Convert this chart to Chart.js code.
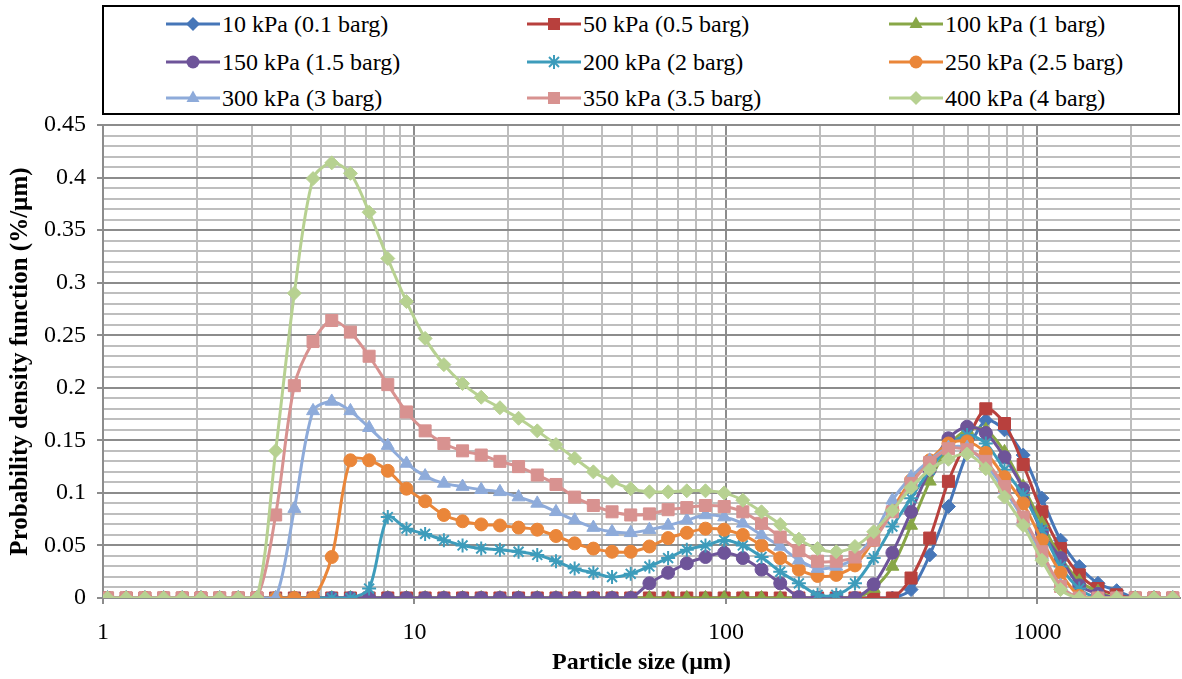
<!DOCTYPE html>
<html>
<head>
<meta charset="utf-8">
<script src="https://cdn.jsdelivr.net/npm/chart.js@4.4.1/dist/chart.umd.min.js"></script>
<style>
html,body{margin:0;padding:0;background:#fff;overflow:hidden}
#wrap{position:relative;width:1182px;height:679px}
#c{position:absolute;left:0;top:0}
#legend{position:absolute;left:102px;top:5px;width:1078px;height:110px;border:2px solid #000;box-sizing:border-box;background:#fff}
.item{position:absolute;height:30px;display:flex;align-items:center;font-family:"Liberation Serif",serif;font-size:24px;color:#000;white-space:nowrap}
.item svg{margin-right:2px}
</style>
</head>
<body>
<div id="wrap">
<canvas id="c" width="1182" height="679"></canvas>
<div id="legend"></div>
</div>
<script>
// Particle size classes (µm)
const sizes = [1.034,1.187,1.363,1.565,1.797,2.063,2.368,2.719,3.122,3.584,4.115,4.725,5.425,6.228,7.151,8.21,9.427,10.82,12.43,14.27,16.38,18.81,21.59,24.79,28.47,32.68,37.53,43.09,49.47,56.8,65.22,74.88,85.97,98.72,113.3,130.1,149.4,171.5,196.9,226.1,259.6,298.1,342.3,393,451.2,518.1,594.8,683,784.2,900.4,1034,1187,1363,1565,1797,2063,2368,2719];

const p10 = [0,0,0,0,0,0,0,0,0,0,0,0,0,0,0,0,0,0,0,0,0,0,0,0,0,0,0,0,0,0,0,0,0,0,0,0,0,0,0,0,0,0,0,0.008,0.041,0.087,0.138,0.169,0.16,0.136,0.095,0.055,0.03,0.014,0.007,0,0,0];
const p50 = [0,0,0,0,0,0,0,0,0,0,0,0,0,0,0,0,0,0,0,0,0,0,0,0,0,0,0,0,0,0,0,0,0,0,0,0,0,0,0,0,0,0,0,0.019,0.057,0.111,0.15,0.18,0.166,0.127,0.082,0.047,0.022,0.009,0.003,0,0,0];
const p100 = [0,0,0,0,0,0,0,0,0,0,0,0,0,0,0,0,0,0,0,0,0,0,0,0,0,0,0,0,0,0,0,0,0,0,0,0,0,0,0,0,0,0.009,0.03,0.069,0.111,0.144,0.16,0.16,0.139,0.106,0.071,0.039,0.016,0.006,0,0,0,0];
const p150 = [0,0,0,0,0,0,0,0,0,0,0,0,0,0,0,0,0,0,0,0,0,0,0,0,0,0,0,0,0,0.014,0.024,0.033,0.039,0.043,0.038,0.027,0.014,0.001,0,0,0,0.013,0.043,0.082,0.122,0.152,0.163,0.157,0.134,0.104,0.063,0.038,0.012,0.004,0,0,0,0];
const p200 = [0,0,0,0,0,0,0,0,0,0,0,0,0,0,0.009,0.077,0.066,0.061,0.055,0.05,0.047,0.046,0.044,0.041,0.035,0.028,0.024,0.02,0.023,0.03,0.038,0.046,0.05,0.055,0.05,0.039,0.025,0.014,0.003,0.003,0.014,0.038,0.068,0.095,0.122,0.144,0.155,0.147,0.122,0.098,0.065,0.03,0.009,0,0,0,0,0];
const p250 = [0,0,0,0,0,0,0,0,0,0,0,0,0.039,0.131,0.131,0.121,0.104,0.092,0.079,0.073,0.07,0.069,0.067,0.065,0.059,0.052,0.047,0.044,0.044,0.049,0.057,0.062,0.066,0.065,0.06,0.05,0.038,0.027,0.021,0.022,0.031,0.055,0.084,0.112,0.131,0.147,0.149,0.138,0.115,0.09,0.055,0.024,0.002,0,0,0,0,0];
const p300 = [0,0,0,0,0,0,0,0,0,0,0.085,0.178,0.187,0.178,0.162,0.145,0.128,0.116,0.109,0.106,0.103,0.101,0.096,0.09,0.082,0.074,0.067,0.063,0.062,0.065,0.069,0.074,0.079,0.077,0.071,0.06,0.049,0.036,0.028,0.03,0.038,0.06,0.093,0.115,0.131,0.143,0.143,0.127,0.103,0.075,0.041,0.012,0,0,0,0,0,0];
const p350 = [0,0,0,0,0,0,0,0,0,0.079,0.202,0.244,0.264,0.253,0.23,0.203,0.177,0.159,0.147,0.14,0.136,0.13,0.125,0.117,0.108,0.096,0.088,0.082,0.079,0.08,0.084,0.086,0.088,0.087,0.082,0.071,0.058,0.045,0.035,0.035,0.039,0.055,0.082,0.109,0.129,0.142,0.141,0.13,0.106,0.077,0.044,0.011,0,0,0,0,0,0];
const p400 = [0,0,0,0,0,0,0,0,0,0.14,0.29,0.399,0.414,0.404,0.367,0.323,0.282,0.247,0.222,0.204,0.191,0.181,0.171,0.159,0.146,0.133,0.12,0.111,0.104,0.101,0.101,0.102,0.102,0.1,0.093,0.082,0.07,0.056,0.047,0.044,0.049,0.063,0.083,0.105,0.122,0.132,0.137,0.123,0.096,0.069,0.036,0.008,0,0,0,0,0,0];

const seriesNames = ['10 kPa (0.1 barg)','50 kPa (0.5 barg)','100 kPa (1 barg)','150 kPa (1.5 barg)','200 kPa (2 barg)','250 kPa (2.5 barg)','300 kPa (3 barg)','350 kPa (3.5 barg)','400 kPa (4 barg)'];
const seriesValues = [p10,p50,p100,p150,p200,p250,p300,p350,p400];
const seriesColors = ['#4676B8','#B8403D','#88A747','#6E5499','#3D9CBB','#EA8639','#8EABDA','#D89290','#B7D191'];
const seriesMarkers = ['rectRot','rect','triangle','circle','star','circle','triangle','rect','rectRot'];

// Axis ticks
const xTickValues = [1,2,3,4,5,6,7,8,9,10,20,30,40,50,60,70,80,90,100,200,300,400,500,600,700,800,900,1000,2000];
const xMajorValues = [1,10,100,1000];
const xTickLabels = ['1','10','100','1000'];
const yMajorValues = [0,0.05,0.1,0.15,0.2,0.25,0.3,0.35,0.4,0.45];
const yTickLabels = ['0','0.05','0.1','0.15','0.2','0.25','0.3','0.35','0.4','0.45'];

const FONT = '"Liberation Serif", "Times New Roman", serif';
const markerRadius = {rectRot:7, rect:8.5, triangle:7.5, circle:6.5, star:7};

const datasets = seriesValues.map((vals, i) => ({
  label: seriesNames[i],
  data: sizes.map((x, j) => ({x: x, y: vals[j]})),
  borderColor: seriesColors[i],
  backgroundColor: seriesColors[i],
  pointBackgroundColor: seriesColors[i],
  pointBorderColor: seriesColors[i],
  pointStyle: seriesMarkers[i],
  pointRadius: markerRadius[seriesMarkers[i]],
  pointBorderWidth: seriesMarkers[i] === 'star' ? 2 : 1,
  borderWidth: 3,
  tension: 0.3,
  fill: false,
  order: seriesValues.length - i
}));

const isXMajor = v => xMajorValues.some(m => Math.abs(m - v) < 1e-9);
const isYMajor = v => yMajorValues.some(m => Math.abs(m - v) < 1e-6);

new Chart(document.getElementById('c'), {
  type: 'line',
  data: {datasets},
  options: {
    responsive: false,
    animation: false,
    layout: {autoPadding: false, padding: {top: 125, right: 2, left: 0, bottom: 0}},
    plugins: {legend: {display: false}, tooltip: {enabled: false}},
    scales: {
      x: {
        type: 'logarithmic',
        min: 1,
        max: 2870,
        afterBuildTicks: s => { s.ticks = xTickValues.map(v => ({value: v})); },
        afterFit: s => { s.height = 81; s.paddingLeft = 0; s.paddingRight = 0; },
        ticks: {
          autoSkip: false, maxRotation: 0, minRotation: 0, padding: 14, color: '#000',
          font: {family: FONT, size: 24},
          callback: v => { const k = xMajorValues.findIndex(m => Math.abs(m - v) < 1e-9); return k >= 0 ? xTickLabels[k] : ''; }
        },
        grid: {
          color: c => (c.tick && isXMajor(c.tick.value)) ? '#8C8C8C' : '#BEBEBE',
          lineWidth: 2,
          tickLength: 6,
          tickColor: c => (c.tick && isXMajor(c.tick.value)) ? '#8C8C8C' : 'rgba(0,0,0,0)'
        },
        border: {display: true, color: '#8C8C8C', width: 2},
        title: {display: true, text: 'Particle size (µm)', color: '#000', font: {family: FONT, size: 24, weight: 'bold'}, padding: {top: 0, bottom: 2}}
      },
      y: {
        min: 0,
        max: 0.45,
        afterBuildTicks: s => { const t = []; for (let i = 0; i <= 45; i++) t.push({value: i / 100}); s.ticks = t; },
        afterFit: s => { s.width = 103; },
        ticks: {
          autoSkip: false, padding: 11, color: '#000',
          font: {family: FONT, size: 24},
          callback: v => { const k = yMajorValues.findIndex(m => Math.abs(m - v) < 1e-6); return k >= 0 ? yTickLabels[k] : ''; }
        },
        grid: {
          color: c => (c.tick && isYMajor(c.tick.value)) ? '#8C8C8C' : '#BEBEBE',
          lineWidth: 2,
          tickLength: 6,
          tickColor: c => (c.tick && isYMajor(c.tick.value)) ? '#8C8C8C' : 'rgba(0,0,0,0)'
        },
        border: {display: true, color: '#8C8C8C', width: 2},
        title: {display: true, text: 'Probability density function (%/µm)', color: '#000', font: {family: FONT, size: 25, weight: 'bold'}, padding: {top: 6, bottom: 0}}
      }
    }
  }
});

// HTML legend (3 x 3 grid)
function markerSVG(style, color) {
  const cx = 27, cy = 10;
  let m = '';
  if (style === 'rectRot') m = `<polygon points="${cx-7},${cy} ${cx},${cy-7} ${cx+7},${cy} ${cx},${cy+7}" fill="${color}"/>`;
  else if (style === 'rect') m = `<rect x="${cx-6}" y="${cy-6}" width="12" height="12" fill="${color}"/>`;
  else if (style === 'triangle') m = `<polygon points="${cx},${cy-7.5} ${cx+6.5},${cy+4} ${cx-6.5},${cy+4}" fill="${color}"/>`;
  else if (style === 'circle') m = `<circle cx="${cx}" cy="${cy}" r="6.5" fill="${color}"/>`;
  else if (style === 'star') m = `<g stroke="${color}" stroke-width="2"><line x1="${cx-7}" y1="${cy}" x2="${cx+7}" y2="${cy}"/><line x1="${cx}" y1="${cy-7}" x2="${cx}" y2="${cy+7}"/><line x1="${cx-5}" y1="${cy-5}" x2="${cx+5}" y2="${cy+5}"/><line x1="${cx-5}" y1="${cy+5}" x2="${cx+5}" y2="${cy-5}"/></g>`;
  return `<svg width="54" height="20" viewBox="0 0 54 20"><line x1="0" y1="10" x2="54" y2="10" stroke="${color}" stroke-width="3"/>${m}</svg>`;
}
const legendCols = [166, 527, 889];
const legendRows = [24, 62, 98];
const wrap = document.getElementById('wrap');
seriesNames.forEach((name, i) => {
  const d = document.createElement('div');
  d.className = 'item';
  d.style.left = legendCols[i % 3] + 'px';
  d.style.top = (legendRows[Math.floor(i / 3)] - 15) + 'px';
  d.innerHTML = markerSVG(seriesMarkers[i], seriesColors[i]) + '<span>' + name + '</span>';
  wrap.appendChild(d);
});
</script>
</body>
</html>
